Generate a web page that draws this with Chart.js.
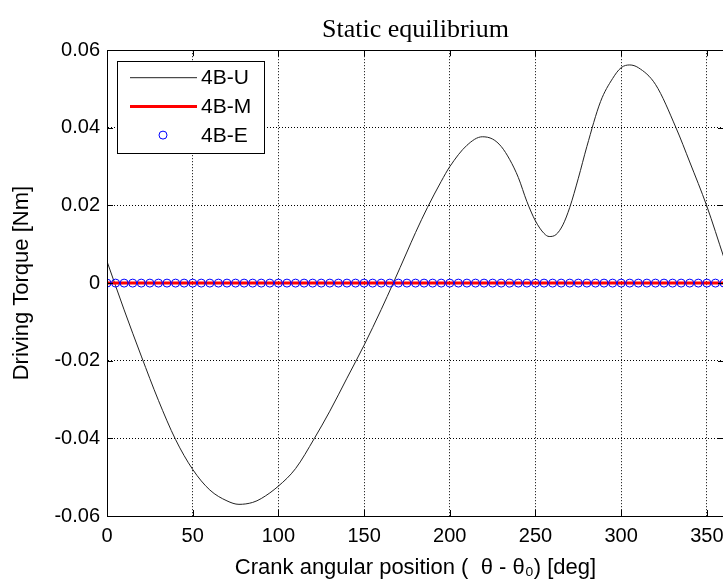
<!DOCTYPE html>
<html>
<head>
<meta charset="utf-8">
<script src="https://cdn.jsdelivr.net/npm/chart.js@4.4.1/dist/chart.umd.min.js"></script>
<style>
  html, body { margin: 0; padding: 0; background: #fff; overflow: hidden; }
  #wrap { width: 740px; height: 584px; }
</style>
</head>
<body>
<div id="wrap"><canvas id="Torque_Chart" width="740" height="584"></canvas></div>
<script>
// Gegevens
var titel = 'Static equilibrium';
var xLabel = 'Crank angular position (  \u03b8 - \u03b8\u2080) [deg]';
var yLabel = 'Driving Torque [Nm]';

var xTicks = [0, 50, 100, 150, 200, 250, 300, 350];
var yTicks = [-0.06, -0.04, -0.02, 0, 0.02, 0.04, 0.06];

// 4B-U: hoek [deg] en koppel [Nm]
var hoekU = [0, 10, 20, 30, 40, 50, 60, 70, 77, 85, 90, 100, 110, 121, 130, 140, 150, 160,
             167, 175, 180, 187, 195, 200, 210, 219, 225, 230, 235, 240, 245, 250, 255, 258, 262,
             266, 270, 275, 280, 288, 295, 300, 305, 310, 320, 332, 340, 350, 360];
var koppelU = [0.0056, -0.0069, -0.0188, -0.0302, -0.0403, -0.0480, -0.0533, -0.0561, -0.0570, -0.0565,
               -0.0555, -0.0523, -0.0478, -0.0400, -0.0330, -0.0245, -0.0160, -0.0068,
               0.0000, 0.0080, 0.0130, 0.0195, 0.0262, 0.0300, 0.0355, 0.0377, 0.0371, 0.0352, 0.0318,
               0.0272, 0.0210, 0.0160, 0.0128, 0.0120, 0.0125, 0.0150, 0.0195, 0.0270, 0.0352,
               0.0468, 0.0527, 0.0555, 0.0562, 0.0555, 0.0512, 0.0400, 0.0312, 0.0198, 0.0065];

// 4B-M en 4B-E: om de 5 graden
var hoekME = [0, 5, 10, 15, 20, 25, 30, 35, 40, 45, 50, 55, 60, 65, 70, 75, 80, 85, 90, 95,
              100, 105, 110, 115, 120, 125, 130, 135, 140, 145, 150, 155, 160, 165, 170, 175,
              180, 185, 190, 195, 200, 205, 210, 215, 220, 225, 230, 235, 240, 245, 250, 255,
              260, 265, 270, 275, 280, 285, 290, 295, 300, 305, 310, 315, 320, 325, 330, 335,
              340, 345, 350, 355, 360];
var koppelM = [0, 0, 0, 0, 0, 0, 0, 0, 0, 0, 0, 0, 0, 0, 0, 0, 0, 0, 0, 0, 0, 0, 0, 0, 0, 0, 0,
               0, 0, 0, 0, 0, 0, 0, 0, 0, 0, 0, 0, 0, 0, 0, 0, 0, 0, 0, 0, 0, 0, 0, 0, 0, 0, 0,
               0, 0, 0, 0, 0, 0, 0, 0, 0, 0, 0, 0, 0, 0, 0, 0, 0, 0, 0];
var koppelE = [0, 0, 0, 0, 0, 0, 0, 0, 0, 0, 0, 0, 0, 0, 0, 0, 0, 0, 0, 0, 0, 0, 0, 0, 0, 0, 0,
               0, 0, 0, 0, 0, 0, 0, 0, 0, 0, 0, 0, 0, 0, 0, 0, 0, 0, 0, 0, 0, 0, 0, 0, 0, 0, 0,
               0, 0, 0, 0, 0, 0, 0, 0, 0, 0, 0, 0, 0, 0, 0, 0, 0, 0, 0];

function punten(xs, ys) {
    return xs.map(function (x, i) { return { x: x, y: ys[i] }; });
}

var sansFont = '"Liberation Sans", Arial, sans-serif';

// Kader, tick-streepjes naar binnen en legenda in MATLAB-stijl
var matlabPlugin = {
    id: 'matlabStijl',
    afterDraw: function (chart) {
        var ctx = chart.ctx;
        var a = chart.chartArea;
        var sx = chart.scales.x, sy = chart.scales.y;
        ctx.save();
        ctx.strokeStyle = '#000';
        ctx.lineWidth = 1;
        ctx.beginPath();
        xTicks.forEach(function (v) {
            var px = Math.round(sx.getPixelForValue(v)) + 0.5;
            ctx.moveTo(px, a.bottom); ctx.lineTo(px, a.bottom - 6);
            ctx.moveTo(px, a.top); ctx.lineTo(px, a.top + 6);
        });
        yTicks.forEach(function (v) {
            var py = Math.round(sy.getPixelForValue(v)) + 0.5;
            ctx.moveTo(a.left, py); ctx.lineTo(a.left + 6, py);
            ctx.moveTo(a.right, py); ctx.lineTo(a.right - 6, py);
        });
        ctx.stroke();
        ctx.strokeRect(Math.round(a.left) + 0.5, Math.round(a.top) + 0.5,
                       Math.round(a.right - a.left), Math.round(a.bottom - a.top));

        // legenda
        var lx = a.left + 10, ly = a.top + 11, lw = 147, lh = 92;
        ctx.fillStyle = '#fff';
        ctx.fillRect(lx, ly, lw, lh);
        ctx.strokeRect(Math.round(lx) + 0.5, Math.round(ly) + 0.5, lw, lh);
        ctx.font = '21px ' + sansFont;
        ctx.textBaseline = 'middle';
        chart.data.datasets.forEach(function (ds, i) {
            var ry = ly + 16.5 + i * 28.7;
            if (ds.showLine === false) {
                ctx.beginPath();
                ctx.strokeStyle = ds.borderColor;
                ctx.lineWidth = 1;
                ctx.arc(lx + 46, ry, 4, 0, Math.PI * 2);
                ctx.stroke();
            } else {
                ctx.beginPath();
                ctx.strokeStyle = ds.borderColor;
                ctx.lineWidth = ds.borderWidth;
                ctx.moveTo(lx + 13, ry);
                ctx.lineTo(lx + 80, ry);
                ctx.stroke();
            }
            ctx.fillStyle = '#000';
            ctx.fillText(ds.label, lx + 84, ry + 1);
        });
        ctx.restore();
    }
};

var ctx = document.getElementById('Torque_Chart').getContext('2d');
var torqueChart = new Chart(ctx, {
    type: 'line',
    data: {
        datasets: [
            { label: '4B-U', data: punten(hoekU, koppelU), borderColor: '#222', borderWidth: 1,
              pointRadius: 0, cubicInterpolationMode: 'monotone', order: 2 },
            { label: '4B-M', data: punten(hoekME, koppelM), borderColor: '#ff0000', borderWidth: 3,
              pointRadius: 0, order: 1 },
            { label: '4B-E', data: punten(hoekME, koppelE), borderColor: '#0000ff', borderWidth: 1,
              backgroundColor: 'rgba(0,0,0,0)', showLine: false, pointRadius: 4, pointStyle: 'circle', order: 0 }
        ]
    },
    options: {
        responsive: false,
        animation: false,
        maintainAspectRatio: false,
        layout: { padding: { left: 0, right: 16, top: 0, bottom: 0 } },
        plugins: {
            legend: { display: false },
            tooltip: { enabled: false },
            title: {
                display: true, text: titel, color: '#000', fullSize: false,
                font: { family: '"Liberation Serif", "Times New Roman", serif', size: 26, weight: 'normal' },
                padding: { top: 15, bottom: 4 }
            }
        },
        scales: {
            x: {
                type: 'linear', min: 0, max: 360,
                afterBuildTicks: function (s) { s.ticks = xTicks.map(function (v) { return { value: v }; }); },
                afterFit: function (s) { s.height = 68; },
                ticks: { color: '#000', padding: 8, maxRotation: 0, font: { family: sansFont, size: 20 } },
                grid: { color: '#000', lineWidth: 1, drawTicks: false },
                border: { display: true, color: '#000', dash: [1, 2] },
                title: { display: true, text: xLabel, color: '#000', padding: { top: 4, bottom: 3 },
                         font: { family: sansFont, size: 22 } }
            },
            y: {
                type: 'linear', min: -0.06, max: 0.06,
                afterBuildTicks: function (s) { s.ticks = yTicks.map(function (v) { return { value: v }; }); },
                afterFit: function (s) { s.width = 107; },
                ticks: { color: '#000', padding: 7, font: { family: sansFont, size: 20 },
                         callback: function (v) { return v === 0 ? '0' : v.toFixed(2); } },
                grid: { color: '#000', lineWidth: 1, drawTicks: false },
                border: { display: true, color: '#000', dash: [1, 2] },
                title: { display: true, text: yLabel, color: '#000', padding: { top: 9, bottom: 0 },
                         font: { family: sansFont, size: 22 } }
            }
        }
    },
    plugins: [matlabPlugin]
});
</script>
</body>
</html>
